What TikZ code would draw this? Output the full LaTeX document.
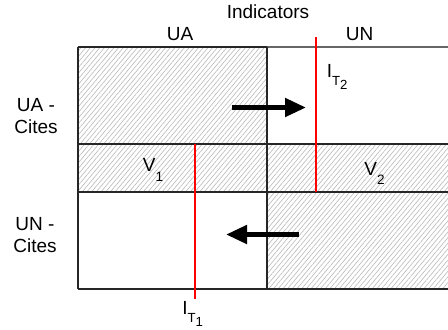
\documentclass[tikz,border=0pt]{standalone}
\usepackage{fontspec}
\setmainfont{Liberation Sans}
\usetikzlibrary{patterns.meta,arrows.meta}

% I with a two level subscript, T and the index
\newcommand{\indlabel}[1]{I\raisebox{-3.8pt}{\fontsize{6.6}{7}\selectfont T\raisebox{-2.4pt}{#1}}}
% V with its index
\newcommand{\vlabel}[1]{V\raisebox{-4.8pt}{\fontsize{6.8}{7}\selectfont #1}}

\tikzset{
	hatched/.style={pattern={Lines[angle=50,distance=1.8pt,line width=0.3pt]}, pattern color=black!28},
	cellline/.style={draw=black!85, line width=0.55pt},
	indline/.style={draw=red, line width=0.6pt},
	shiftarrow/.style={line width=2.4pt, -{Triangle[length=10.5pt,width=9pt]}},
	txt/.style={inner sep=0pt, font=\fontsize{9.5}{11}\selectfont, align=center}
}

\begin{document}
\begin{tikzpicture}[x=0.5pt, y=-0.5pt, line cap=butt, line join=miter]
		
		\useasboundingbox (0,0) rectangle (448,329);
		
		% Corners of the table
		\coordinate (tl) at (78,47);
		\coordinate (tm) at (267,47);
		\coordinate (tr) at (448,47);
		\coordinate (bl) at (78,289);
		\coordinate (bm) at (267,289);
		\coordinate (br) at (448,289);
		
		% Hatched cells
		\fill[hatched] (78,47) rectangle (267,144);
		\fill[hatched] (78,144) rectangle (448,192);
		\fill[hatched] (267,192) rectangle (448,289);
		
		% Cell borders
		\draw[cellline, draw=black!60] (tm) -- (tr);
		\draw[cellline] (tl) -- (tm);
		\draw[cellline] (78,144) -- (448,144);
		\draw[cellline] (78,192) -- (448,192);
		\draw[cellline] (bl) -- (br);
		\draw[cellline] (tl) -- (bl);
		\draw[cellline] (tm) -- (bm);
		
		% Red indicator lines
		\coordinate (it2top) at (316,37);
		\coordinate (it2bot) at (316,192);
		\coordinate (it1top) at (195,144);
		\coordinate (it1bot) at (195,299);
		\draw[indline] (it2top) -- (it2bot);
		\draw[indline] (it1top) -- (it1bot);
		
		% Shift arrows
		\coordinate (rarrS) at (232,107.5);
		\coordinate (rarrE) at (306,107.5);
		\coordinate (larrS) at (299,234.5);
		\coordinate (larrE) at (226,234.5);
		\draw[shiftarrow] (rarrS) -- (rarrE);
		\draw[shiftarrow] (larrS) -- (larrE);
		
		% Labels
		\node[txt] (indic) at (268,12) {Indicators};
		\node[txt] (colua) at (180,34) {UA};
		\node[txt] (colun) at (359.5,34) {UN};
		\node[txt] (rowua) at (36,116) {UA -\\Cites};
		\node[txt] (rowun) at (35,235) {UN -\\Cites};
		\node[txt, anchor=base west] (v1) at (142.5,171.7) {\vlabel{1}};
		\node[txt, anchor=base west] (v2) at (364,175) {\vlabel{2}};
		\node[txt, anchor=base west] (it2) at (326.5,77.5) {\indlabel{2}};
		\node[txt, anchor=base west] (it1) at (182,314.5) {\indlabel{1}};
		
	\end{tikzpicture}
\end{document}
